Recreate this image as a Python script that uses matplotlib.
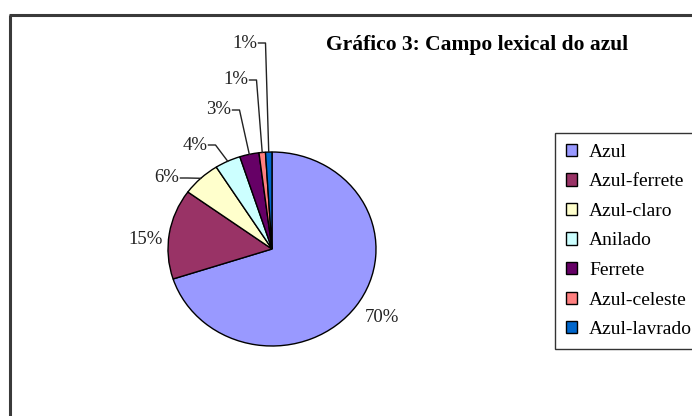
import numpy as np
import matplotlib
matplotlib.use("Agg")
import matplotlib.pyplot as plt
from matplotlib.patches import Patch

# data
categories = ["Azul", "Azul-ferrete", "Azul-claro", "Anilado", "Ferrete", "Azul-celeste", "Azul-lavrado"]
percent = [70, 15, 6, 4, 3, 1, 1]
colors = ["#9999FF", "#993366", "#FFFFCC", "#CCFFFF", "#660066", "#FF8080", "#0066CC"]
title = "Gráfico 3: Campo lexical do azul"

plt.rcParams["font.family"] = ["Liberation Serif", "DejaVu Serif"]

W, H = 692, 416
fig = plt.figure(figsize=(W / 100, H / 100), dpi=100)

# overlay axes in pixel coords (y down)
ov = fig.add_axes([0, 0, 1, 1], zorder=3)
ov.set_xlim(0, W)
ov.set_ylim(H, 0)
ov.axis("off")
ov.patch.set_alpha(0)

# pie geometry (pixels)
cx, cy, rx, ry = 272, 249, 104, 97
pax = fig.add_axes([(cx - rx) / W, 1 - (cy + ry) / H, 2 * rx / W, 2 * ry / H], zorder=2)
wedges, _ = pax.pie(percent, colors=colors, startangle=90, counterclock=False,
                    wedgeprops=dict(edgecolor="black", linewidth=1.0))
pax.set_aspect("auto")
pax.set_xlim(-1, 1)
pax.set_ylim(-1, 1)

# frame
ov.plot([10, 10], [15, H + 5], color="#3a3a3a", lw=2.2, solid_capstyle="butt")
ov.plot([9, W + 5], [15, 15], color="#3a3a3a", lw=2.2, solid_capstyle="butt")

ov.text(477, 45, title, ha="center", va="center", fontsize=15.5, fontweight="bold")

# labels: (x, y) of label anchor, whether leader line is drawn
label_pos = [(382, 317), (146, 240), (167, 178), (195, 145), (219, 110), (236, 80), (245, 43)]
leader = [False, False, True, True, True, True, True]

fig.canvas.draw()
for w, p, (lx, ly), ld in zip(wedges, percent, label_pos, leader):
    t = ov.text(lx, ly, f"{p}%", ha="center", va="center", fontsize=13.5, color="#222222")
    if ld:
        mid = np.deg2rad((w.theta1 + w.theta2) / 2)
        ex = cx + rx * np.cos(mid)
        ey = cy - ry * np.sin(mid)
        bb = t.get_window_extent(renderer=fig.canvas.get_renderer())
        x0 = bb.x1 + 1
        x1 = x0 + 7
        ov.plot([x0, x1, ex], [ly, ly, ey], color="#222222", lw=1.0)

handles = [Patch(facecolor=c, edgecolor="black", linewidth=1.0) for c in colors]
leg = ov.legend(handles, categories, loc="upper left", bbox_to_anchor=(555 / W, 1 - 133 / H),
                bbox_transform=fig.transFigure, fontsize=14, frameon=True, fancybox=False,
                edgecolor="black", handlelength=0.6, handleheight=0.6, handletextpad=0.6,
                labelspacing=0.645, borderpad=0.55, borderaxespad=0)
leg.get_frame().set_linewidth(1.0)

fig.savefig("out.png", dpi=100)
